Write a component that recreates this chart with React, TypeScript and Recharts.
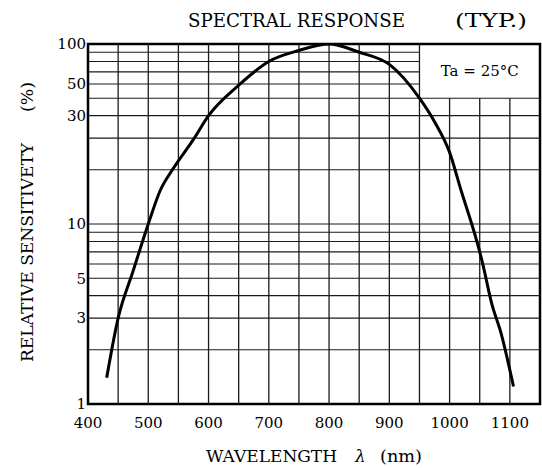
import React from 'react'
import {
  LineChart,
  Line,
  XAxis,
  YAxis,
  ReferenceLine,
  ReferenceArea,
} from 'recharts'

// curve
const wavelengths = [431, 450, 475, 500, 520, 540, 575, 600, 650, 700, 750, 800, 850, 900, 950, 975, 1000, 1020, 1040, 1050, 1055, 1070, 1085, 1106]
const sensitivity = [1.4, 3.0, 5.5, 10, 15.4, 20, 29.5, 40, 59, 80, 92, 100, 90, 77, 50, 37, 25, 15, 9.2, 7.0, 6.0, 3.6, 2.5, 1.25]

const xTicks = [400, 500, 600, 700, 800, 900, 1000, 1100]
// the original sheet prints "50" and "30" beside the 60 and 40 grid lines
const yTicks = [1, 3, 5, 10, 40, 60, 100]
const yTickLabels = ['1', '3', '5', '10', '30', '50', '100']

const xGridFull = [450, 500, 550, 600, 650, 700, 750, 800, 850, 900, 950]
const xGridShort = [1000, 1050, 1100]
const yGridFull = [2, 3, 4, 5, 6, 7, 8, 9, 10, 20, 30, 40, 50]
const yGridShort = [60, 70, 80, 90]

const data = wavelengths.map((wl, i) => ({ wl, val: sensitivity[i] }))

const FONT = '"DejaVu Serif", "Liberation Serif", serif'
const gridColor = '#1a1a1a'

const App = () => {
  return (
    <div style={{ position: 'absolute', left: 0, top: 0, width: 542, height: 468, background: '#fff' }}>
      <LineChart width={542} height={468} data={data} margin={{ top: 44, right: 2, bottom: 0, left: 0 }}>
        <XAxis
          dataKey="wl"
          type="number"
          domain={[400, 1150]}
          ticks={xTicks}
          allowDataOverflow
          axisLine={false}
          tickLine={false}
          tickSize={0}
          tickMargin={13}
          height={64}
          tick={{ fontSize: 15, fontFamily: FONT, fill: '#000' }}
        />
        <YAxis
          type="number"
          scale="log"
          domain={[1, 100]}
          ticks={yTicks}
          tickFormatter={(v: number) => yTickLabels[yTicks.indexOf(v)] ?? String(v)}
          allowDataOverflow
          axisLine={false}
          tickLine={false}
          tickSize={0}
          tickMargin={2}
          width={88}
          tick={{ fontSize: 15, fontFamily: FONT, fill: '#000' }}
        />

        {xGridFull.map((x) => (
          <ReferenceLine key={'vx' + x} x={x} stroke={gridColor} strokeWidth={1.3} />
        ))}
        {xGridShort.map((x) => (
          <ReferenceLine key={'vs' + x} segment={[{ x, y: 1 }, { x, y: 50 }]} stroke={gridColor} strokeWidth={1.3} />
        ))}
        {yGridFull.map((y) => (
          <ReferenceLine key={'hy' + y} y={y} stroke={gridColor} strokeWidth={1.1} />
        ))}
        {yGridShort.map((y) => (
          <ReferenceLine key={'hs' + y} segment={[{ x: 400, y }, { x: 950, y }]} stroke={gridColor} strokeWidth={1.1} />
        ))}

        <ReferenceArea
          x1={950}
          x2={1150}
          y1={50}
          y2={100}
          fill="none"
          stroke="none"
          ifOverflow="visible"
          label={{ value: 'Ta = 25°C', position: 'center', fontSize: 15, fontFamily: FONT, fill: '#000' }}
        />
        <ReferenceArea
          x1={400}
          x2={1150}
          y1={1}
          y2={100}
          fill="none"
          stroke="#000"
          strokeWidth={2.5}
          ifOverflow="visible"
        />

        <Line
          type="monotone"
          dataKey="val"
          stroke="#000"
          strokeWidth={3}
          dot={false}
          isAnimationActive={false}
        />

        <text x={188} y={27} fontFamily={FONT} fontSize={19} fill="#000" textLength={217} lengthAdjust="spacingAndGlyphs">
          SPECTRAL RESPONSE
        </text>
        <text x={455} y={27} fontFamily={FONT} fontSize={19} fill="#000" textLength={72} lengthAdjust="spacingAndGlyphs">
          (TYP.)
        </text>
        <text x={206} y={462} fontFamily={FONT} fontSize={17} fill="#000" textLength={131} lengthAdjust="spacingAndGlyphs">
          WAVELENGTH
        </text>
        <text x={355} y={462} fontFamily={FONT} fontSize={17} fontStyle="italic" fill="#000">
          λ
        </text>
        <text x={380} y={462} fontFamily={FONT} fontSize={17} fill="#000" textLength={42} lengthAdjust="spacingAndGlyphs">
          (nm)
        </text>
        <g transform="translate(33, 362) rotate(-90)">
          <text x={0} y={0} fontFamily={FONT} fontSize={17} fill="#000" textLength={219} lengthAdjust="spacingAndGlyphs">
            RELATIVE SENSITIVETY
          </text>
          <text x={250} y={0} fontFamily={FONT} fontSize={17} fill="#000" textLength={30} lengthAdjust="spacingAndGlyphs">
            (%)
          </text>
        </g>
      </LineChart>
    </div>
  )
}

export default App
